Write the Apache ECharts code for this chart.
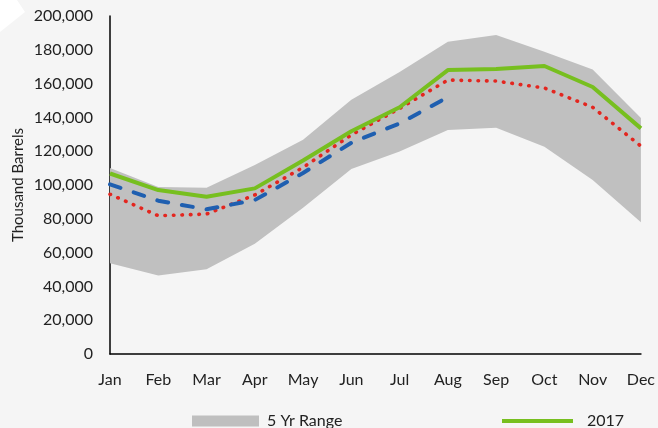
<!DOCTYPE html>
<html>
<head>
<meta charset="utf-8">
<script src="https://cdn.jsdelivr.net/npm/echarts@6/dist/echarts.min.js"></script>
<style>
  html, body { margin: 0; padding: 0; background: #f5f5f5; }
  #chart { width: 658px; height: 428px; }
</style>
</head>
<body>
<div id="chart"></div>
<script>
// Monthly inventory, thousand barrels
const months = ['Jan', 'Feb', 'Mar', 'Apr', 'May', 'Jun', 'Jul', 'Aug', 'Sep', 'Oct', 'Nov', 'Dec'];
const rangeLow  = [53700, 46500, 50100, 65300, 86600, 109500, 119800, 132500, 133900, 122700, 103000, 78000];
const rangeHigh = [110000, 98800, 98400, 111800, 126800, 150500, 166800, 184800, 188800, 178900, 168400, 139600];
const y2017     = [106800, 97000, 93100, 98000, 114500, 131800, 146000, 168000, 168600, 170400, 158000, 133500];
const avg5yr    = [94500, 81800, 82800, 94100, 110400, 129600, 145300, 162100, 161500, 157400, 146000, 123000];
const y2018     = [100400, 90700, 85600, 91100, 107100, 125000, 136400, 152000, null, null, null, null];
const yTicks = { min: 0, max: 200000, interval: 20000 };

const rangeSpan = rangeHigh.map((h, i) => h - rangeLow[i]);

const FONT = 'Lato, "Open Sans", sans-serif';
const chart = echarts.init(document.getElementById('chart'));

chart.setOption({
  backgroundColor: '#f5f5f5',
  animation: false,
  textStyle: { fontFamily: FONT },
  graphic: [{
    type: 'polygon',
    shape: { points: [[0, 0], [17, 0], [25, 12], [0, 32]] },
    style: { fill: '#ffffff' },
    z: 0
  }],
  grid: { left: 110, right: 16, top: 16, bottom: 74 },
  legend: [
    {
      left: 187,
      top: 408,
      itemWidth: 67,
      itemHeight: 11,
      itemGap: 0,
      textStyle: { fontFamily: FONT, fontSize: 16, color: '#222', padding: [0, 0, 0, 3] },
      data: [{ name: '5 Yr Range', icon: 'rect', itemStyle: { color: '#bfbfbf' } }]
    },
    {
      left: 497,
      top: 408,
      itemWidth: 71,
      itemHeight: 11,
      itemGap: 0,
      textStyle: { fontFamily: FONT, fontSize: 16, color: '#222', padding: [0, 0, 0, 9] },
      data: [{
        name: '2017',
        icon: 'path://M0,0 L71,0 L71,4 L0,4 Z',
        itemStyle: { color: '#77bf1f' }
      }]
    }
  ],
  xAxis: {
    type: 'category',
    data: months,
    boundaryGap: false,
    axisLine: { lineStyle: { color: '#000', width: 1.5 } },
    axisTick: { show: false },
    axisLabel: { fontFamily: FONT, fontSize: 16, color: '#222', margin: 18 },
    splitLine: { show: false }
  },
  yAxis: {
    type: 'value',
    min: yTicks.min,
    max: yTicks.max,
    interval: yTicks.interval,
    name: 'Thousand Barrels',
    nameLocation: 'middle',
    nameGap: 84,
    nameMoveOverlap: false,
    nameTextStyle: { fontFamily: FONT, fontSize: 15, color: '#222' },
    axisLine: { show: true, lineStyle: { color: '#000', width: 1.5 } },
    axisTick: { show: false },
    splitLine: { show: false },
    axisLabel: {
      fontFamily: FONT, fontSize: 16, color: '#222', margin: 17,
      formatter: v => v.toLocaleString('en-US')
    }
  },
  series: [
    {
      name: 'rangeBase',
      type: 'line',
      stack: 'range',
      data: rangeLow,
      symbol: 'none',
      lineStyle: { opacity: 0 },
      areaStyle: { opacity: 0 },
      silent: true
    },
    {
      name: '5 Yr Range',
      type: 'line',
      stack: 'range',
      data: rangeSpan,
      symbol: 'none',
      itemStyle: { color: '#bfbfbf' },
      lineStyle: { opacity: 0 },
      areaStyle: { color: '#c0c0c0', opacity: 1 },
      silent: true
    },
    {
      name: '5 Yr Avg',
      type: 'line',
      data: avg5yr,
      symbol: 'none',
      z: 3,
      lineStyle: { color: '#e3261f', width: 3.6, type: [0.5, 8], cap: 'round' }
    },
    {
      name: '2018',
      type: 'line',
      data: y2018,
      symbol: 'none',
      z: 4,
      lineStyle: { color: '#1f5fb0', width: 4, type: [11, 14], cap: 'round' }
    },
    {
      name: '2017',
      type: 'line',
      data: y2017,
      symbol: 'none',
      z: 5,
      itemStyle: { color: '#77bf1f' },
      lineStyle: { color: '#77bf1f', width: 4 }
    }
  ]
});
</script>
</body>
</html>
